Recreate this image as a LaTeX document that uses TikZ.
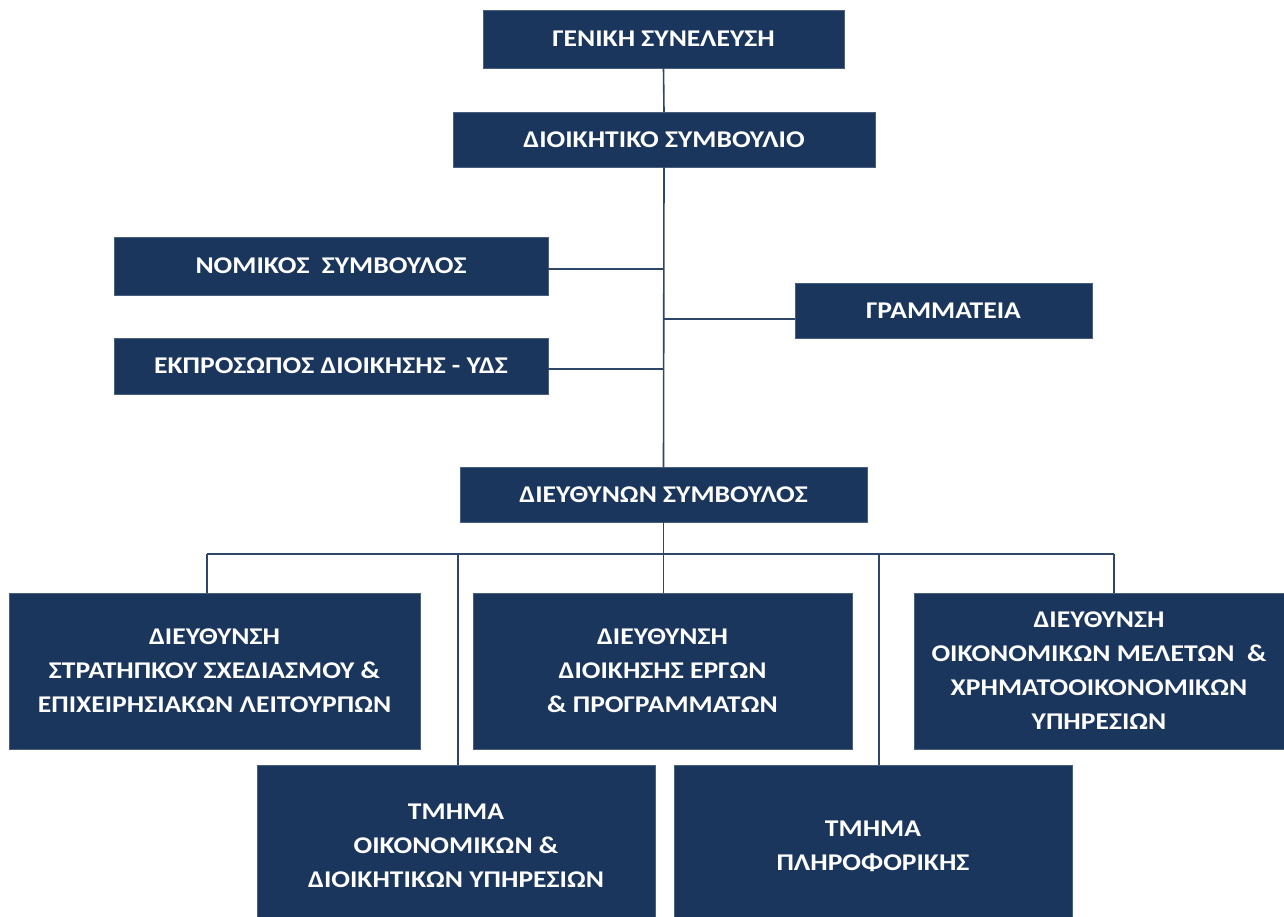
\documentclass[tikz,border=0pt]{standalone}
\usepackage{fontspec}
\setmainfont{Carlito}[FakeStretch=1.15]
\definecolor{navy}{HTML}{1B365D}
\definecolor{navyedge}{HTML}{4A5F80}
\definecolor{linecol}{HTML}{2E4668}
\begin{document}
\begin{tikzpicture}[x=1pt,y=-1pt,
  box/.style={draw=navyedge, line width=0.8pt, fill=navy, text=white,
    font=\fontsize{24}{34}\selectfont\bfseries, align=center,
    inner sep=0pt, outer sep=0pt, rectangle},
  conn/.style={draw=linecol, line width=1.6pt}]
\useasboundingbox (0,0) rectangle (1284,917);
% boxes
\node[box, minimum width=361pt, minimum height=58pt] (gs) at (663.5,39) {ΓΕΝΙΚΗ ΣΥΝΕΛΕΥΣΗ};
\node[box, minimum width=422pt, minimum height=55pt] (ds) at (664,139.5) {ΔΙΟΙΚΗΤΙΚΟ ΣΥΜΒΟΥΛΙΟ};
\node[box, minimum width=434pt, minimum height=58pt] (nom) at (331,266) {ΝΟΜΙΚΟΣ\ \ ΣΥΜΒΟΥΛΟΣ};
\node[box, minimum width=297pt, minimum height=55pt] (gram) at (943.5,310.5) {ΓΡΑΜΜΑΤΕΙΑ};
\node[box, minimum width=434pt, minimum height=56pt] (ekp) at (331,366) {ΕΚΠΡΟΣΩΠΟΣ ΔΙΟΙΚΗΣΗΣ - ΥΔΣ};
\node[box, minimum width=407pt, minimum height=55pt] (dsym) at (663.5,494.5) {ΔΙΕΥΘΥΝΩΝ ΣΥΜΒΟΥΛΟΣ};
\node[box, minimum width=411pt, minimum height=156pt] (d1) at (214.5,671) {ΔΙΕΥΘΥΝΣΗ\\ΣΤΡΑΤΗΠΚΟΥ ΣΧΕΔΙΑΣΜΟΥ \&\\ΕΠΙΧΕΙΡΗΣΙΑΚΩΝ ΛΕΙΤΟΥΡΠΩΝ};
\node[box, minimum width=379pt, minimum height=156pt] (d2) at (662.5,671) {ΔΙΕΥΘΥΝΣΗ\\ΔΙΟΙΚΗΣΗΣ ΕΡΓΩΝ\\\& ΠΡΟΓΡΑΜΜΑΤΩΝ};
\node[box, minimum width=370pt, minimum height=156pt] (d3) at (1099,671) {ΔΙΕΥΘΥΝΣΗ\\ΟΙΚΟΝΟΜΙΚΩΝ ΜΕΛΕΤΩΝ\ \ \&\\ΧΡΗΜΑΤΟΟΙΚΟΝΟΜΙΚΩΝ\\ΥΠΗΡΕΣΙΩΝ};
\node[box, minimum width=398pt, minimum height=162pt] (t1) at (456,846) {ΤΜΗΜΑ\\ΟΙΚΟΝΟΜΙΚΩΝ \&\\ΔΙΟΙΚΗΤΙΚΩΝ ΥΠΗΡΕΣΙΩΝ};
\node[box, minimum width=398pt, minimum height=162pt] (t2) at (873,846) {ΤΜΗΜΑ\\ΠΛΗΡΟΦΟΡΙΚΗΣ};
% connectors
\draw[conn] (gs.south) -- (ds.north);
\draw[conn] (ds.south) -- (dsym.north);
\draw[conn] (nom.east |- 0,269) -- (ds.south |- 0,269);
\draw[conn] (gram.west |- 0,319) -- (ds.south |- 0,319);
\draw[conn] (ekp.east |- 0,369) -- (ds.south |- 0,369);
\coordinate (busL) at (207,554);
\coordinate (busR) at (1114,554);
\coordinate (busA) at (458,554);
\coordinate (busB) at (879,554);
\draw[conn] (busL) -- (busR);
\draw[conn] (dsym.south) -- (dsym.south |- d2.north);
\draw[conn] (busL) -- (busL |- d1.north);
\draw[conn] (busA) -- (busA |- t1.north);
\draw[conn] (busB) -- (busB |- t2.north);
\draw[conn] (busR) -- (busR |- d3.north);
\end{tikzpicture}
\end{document}
